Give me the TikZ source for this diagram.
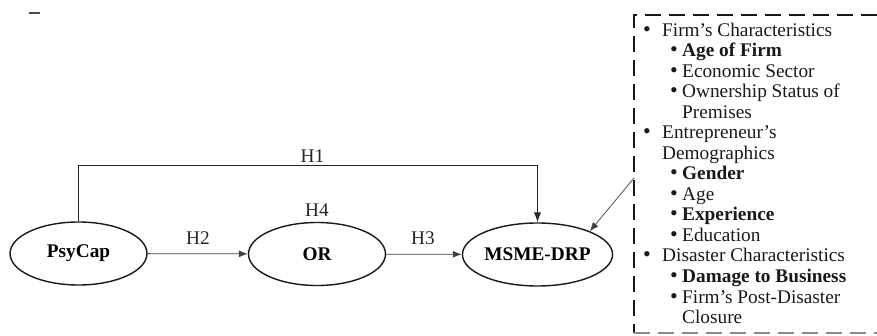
\documentclass[tikz,border=0pt]{standalone}
\usepackage{fontspec}
\setmainfont{Liberation Serif}
\usetikzlibrary{shapes.geometric,arrows.meta}
\newcommand{\blt}{{\fontsize{22}{20}\selectfont\textbullet}}
\newcommand{\lvlone}[1]{\makebox[19pt][l]{\blt}#1}
\newcommand{\lvltwo}[1]{\makebox[12pt][l]{\blt}#1}
\begin{document}
\begin{tikzpicture}[x=1pt,y=-1pt,
  every node/.style={font=\fontsize{19.3}{20.5}\selectfont},
  construct/.style={ellipse,draw=black!90,line width=1.4pt,minimum width=137pt,minimum height=63pt,inner sep=0pt,font=\fontsize{19.3}{20.5}\selectfont\bfseries},
  hyp/.style={inner sep=0pt,text=black!85},
  path/.style={draw=black!75,line width=0.8pt,-{Latex[length=9pt,width=7pt]}},
  direct/.style={draw=black!85,line width=1.3pt,-{Latex[length=10pt,width=7.5pt]}},
  item/.style={anchor=base west,inner sep=0pt,text=black!90},
  frame/.style={line width=2pt,dash pattern=on 16pt off 8pt}]
\useasboundingbox (0,0) rectangle (877,336);

% stray hyphen mark in the corner
\draw[line width=1.4pt,black!70] (29,13) -- (40,13);

% constructs
\node[construct] (psycap) at (78.5,253.5) {PsyCap};
\node[construct] (or) at (317,254) {OR};
\node[construct,minimum width=139pt] (msme) at (537.5,254.5) {MSME-DRP};

% hypothesised paths
\draw[path] (psycap) -- (or);
\draw[path] (or) -- (msme);
\draw[direct] (psycap.north) -- ++(0,-56) -| (msme.north);

\node[hyp] (h1) at (312.5,156.5) {H1};
\node[hyp] (h2) at (198,238) {H2};
\node[hyp] (h4) at (317,210) {H4};
\node[hyp] (h3) at (423,238) {H3};

% control variables box
\draw[frame,black!90] (877,15) -- (634,15) -- (634,333);
\draw[frame,black!45] (634,333) -- (877,333);
\coordinate (ctrl) at (634,178);
\draw[path,line width=0.7pt] (ctrl) -- (msme.24);

\node[item] (c1)  at (643,36.5)  {\lvlone{Firm’s Characteristics}};
\node[item] (c2)  at (670,57)    {\lvltwo{\textbf{Age of Firm}}};
\node[item] (c3)  at (670,77.5)  {\lvltwo{Economic Sector}};
\node[item] (c4)  at (670,98)    {\lvltwo{Ownership Status of}};
\node[item] (c5)  at (682,118.5) {Premises};
\node[item] (c6)  at (643,139)   {\lvlone{Entrepreneur’s}};
\node[item] (c7)  at (662,159.5) {Demographics};
\node[item] (c8)  at (670,180)   {\lvltwo{\textbf{Gender}}};
\node[item] (c9)  at (670,200.5) {\lvltwo{Age}};
\node[item] (c10) at (670,221)   {\lvltwo{\textbf{Experience}}};
\node[item] (c11) at (670,241.5) {\lvltwo{Education}};
\node[item] (c12) at (643,262)   {\lvlone{Disaster Characteristics}};
\node[item] (c13) at (670,282.5) {\lvltwo{\textbf{Damage to Business}}};
\node[item] (c14) at (670,303)   {\lvltwo{Firm’s Post-Disaster}};
\node[item] (c15) at (682,323.5) {Closure};
\end{tikzpicture}
\end{document}
